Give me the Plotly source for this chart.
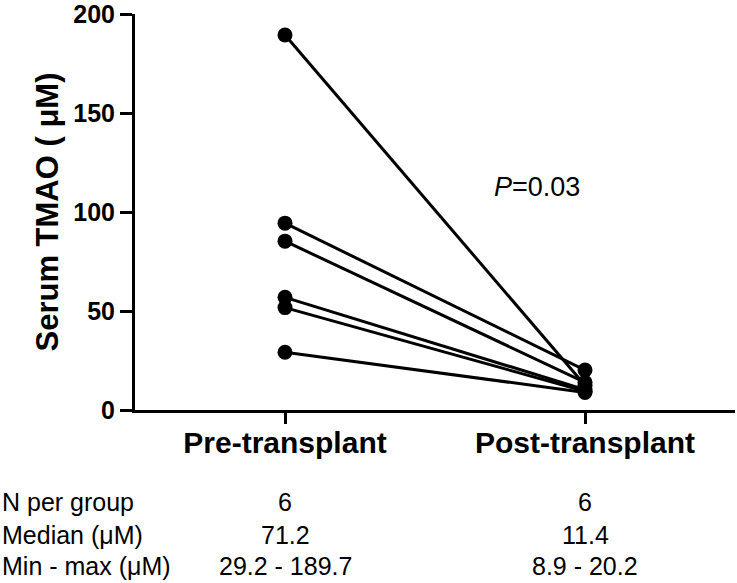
import plotly.graph_objects as go

groups = ["Pre-transplant", "Post-transplant"]
pre_values = [189.7, 94.5, 85.4, 57.0, 51.8, 29.2]
post_values = [12.5, 20.2, 14.0, 10.3, 9.5, 8.9]
y_ticks = [0, 50, 100, 150, 200]

row_labels = ["N per group", "Median (\u03bcM)", "Min - max (\u03bcM)"]
pre_stats = ["6", "71.2", "29.2 - 189.7"]
post_stats = ["6", "11.4", "8.9 - 20.2"]
p_text = "<i>P</i>=0.03"

fig = go.Figure()
for a, b in zip(pre_values, post_values):
    fig.add_trace(go.Scatter(
        x=groups, y=[a, b], mode="lines+markers",
        line=dict(color="black", width=3),
        marker=dict(color="black", size=15),
        cliponaxis=False, showlegend=False, hoverinfo="skip"))

W, H = 737, 583
L, R, T, B = 135, 2, 14, 173
pw = W - L - R
ph = H - T - B
FAM = "Liberation Sans, Arial, sans-serif"

fig.update_layout(
    width=W, height=H,
    margin=dict(l=L, r=R, t=T, b=B),
    plot_bgcolor="white", paper_bgcolor="white",
    font=dict(family=FAM, color="black"),
)
fig.update_xaxes(
    type="category", range=[-0.5, 1.5], automargin=False,
    showline=True, linecolor="black", linewidth=3,
    ticks="outside", ticklen=11, tickwidth=3, tickcolor="black",
    ticklabelstandoff=-7,
    tickfont=dict(size=30, family=FAM, color="black", weight="bold"),
    showgrid=False, zeroline=False)
fig.update_yaxes(
    range=[0, 200.3], tickvals=y_ticks, automargin=False,
    showline=True, linecolor="black", linewidth=3,
    ticks="outside", ticklen=12, tickwidth=3, tickcolor="black",
    tickfont=dict(size=25, family=FAM, color="black", weight="bold"),
    showgrid=False, zeroline=False,
    title=dict(text="Serum TMAO ( \u03bcM)",
               font=dict(size=31, family=FAM, color="black", weight="bold"), standoff=6))

fig.add_annotation(text=p_text, xref="x", yref="y", x=0.84, y=113,
                   showarrow=False, font=dict(size=27, color="black"))

row_y_px = [502, 535, 566]
for lab, s1, s2, ypx in zip(row_labels, pre_stats, post_stats, row_y_px):
    yp = (H - B - ypx) / ph
    fig.add_annotation(text=lab, xref="paper", yref="paper", x=-L / pw, y=yp,
                       xanchor="left", yanchor="middle", showarrow=False,
                       font=dict(size=25, color="black"))
    fig.add_annotation(text=s1, xref="x", yref="paper", x=groups[0], y=yp,
                       xanchor="center", yanchor="middle", showarrow=False,
                       font=dict(size=25, color="black"))
    fig.add_annotation(text=s2, xref="x", yref="paper", x=groups[1], y=yp,
                       xanchor="center", yanchor="middle", showarrow=False,
                       font=dict(size=25, color="black"))

fig.write_html("out.html", config={"displayModeBar": False},
               post_script="document.body.style.margin='0';")
